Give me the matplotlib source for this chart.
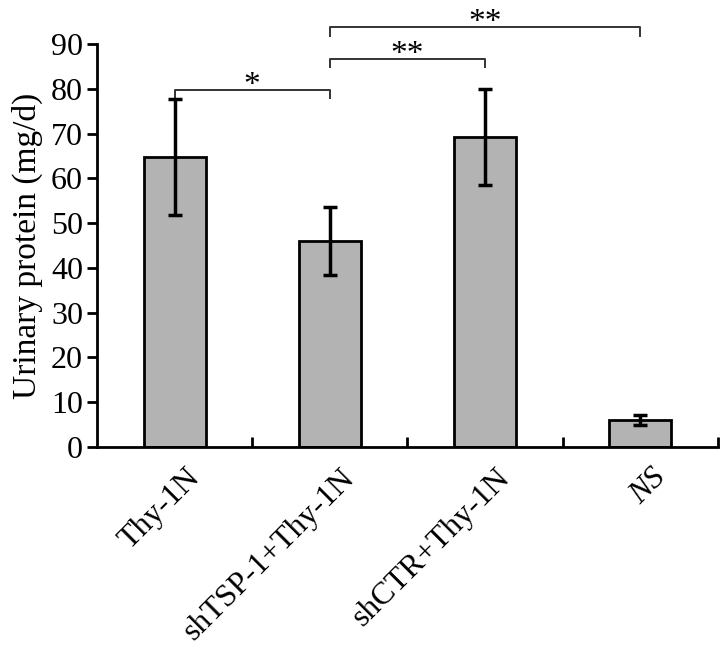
import matplotlib
matplotlib.use("Agg")
from matplotlib import pyplot as plt
import numpy as np

groups = ["Thy-1N", "shTSP-1+Thy-1N", "shCTR+Thy-1N", "NS"]
protein = [64.7, 46.0, 69.3, 6.0]
protein_err = [13.0, 7.5, 10.7, 1.2]

# significance brackets: (left group, right group, bar height, label)
sig_pairs = [(0, 1, 79.8, "*"), (1, 2, 86.7, "**"), (1, 3, 93.7, "**")]

plt.rcParams['font.family'] = ['Liberation Serif', 'DejaVu Serif']

fig = plt.figure(figsize=(7.27, 6.45), dpi=100)
ax = fig.add_axes([0.1334, 0.307, 0.8542, 0.6248])

x = np.arange(len(groups))
ax.bar(x, protein, width=0.4, color='#b3b3b3', edgecolor='black', linewidth=2, zorder=2)
ax.errorbar(x, protein, yerr=protein_err, fmt='none', ecolor='black',
            elinewidth=2.5, capsize=5, capthick=2.5, zorder=3)

for a, b, h, label in sig_pairs:
    ax.plot([a, a, b, b], [h - 1.9, h, h, h - 1.9], color='#333333',
            linewidth=1.4, clip_on=False)
    ax.text((a + b) / 2, h - 0.9, label, ha='center', va='baseline',
            fontsize=24, clip_on=False)

ax.set_xlim(-0.5, 3.5)
ax.set_ylim(0, 90)
ax.set_yticks(np.arange(0, 91, 10))
ax.tick_params(axis='y', direction='out', length=7, width=2, labelsize=23, pad=3)

ax.set_xticks(x + 0.5)
ax.set_xticklabels([])
ax.tick_params(axis='x', direction='in', length=7, width=2)
for xi, name in zip(x, groups):
    style = 'italic' if name == "NS" else 'normal'
    ax.text(xi + 0.07, -3.6, name, rotation=45, ha='right', va='top',
            rotation_mode='anchor', fontsize=23, style=style)

ax.set_ylabel("Urinary protein (mg/d)", fontsize=24, labelpad=6)

for side in ['top', 'right']:
    ax.spines[side].set_visible(False)
for side in ['left', 'bottom']:
    ax.spines[side].set_linewidth(2)

plt.savefig("out.png", dpi=100)
